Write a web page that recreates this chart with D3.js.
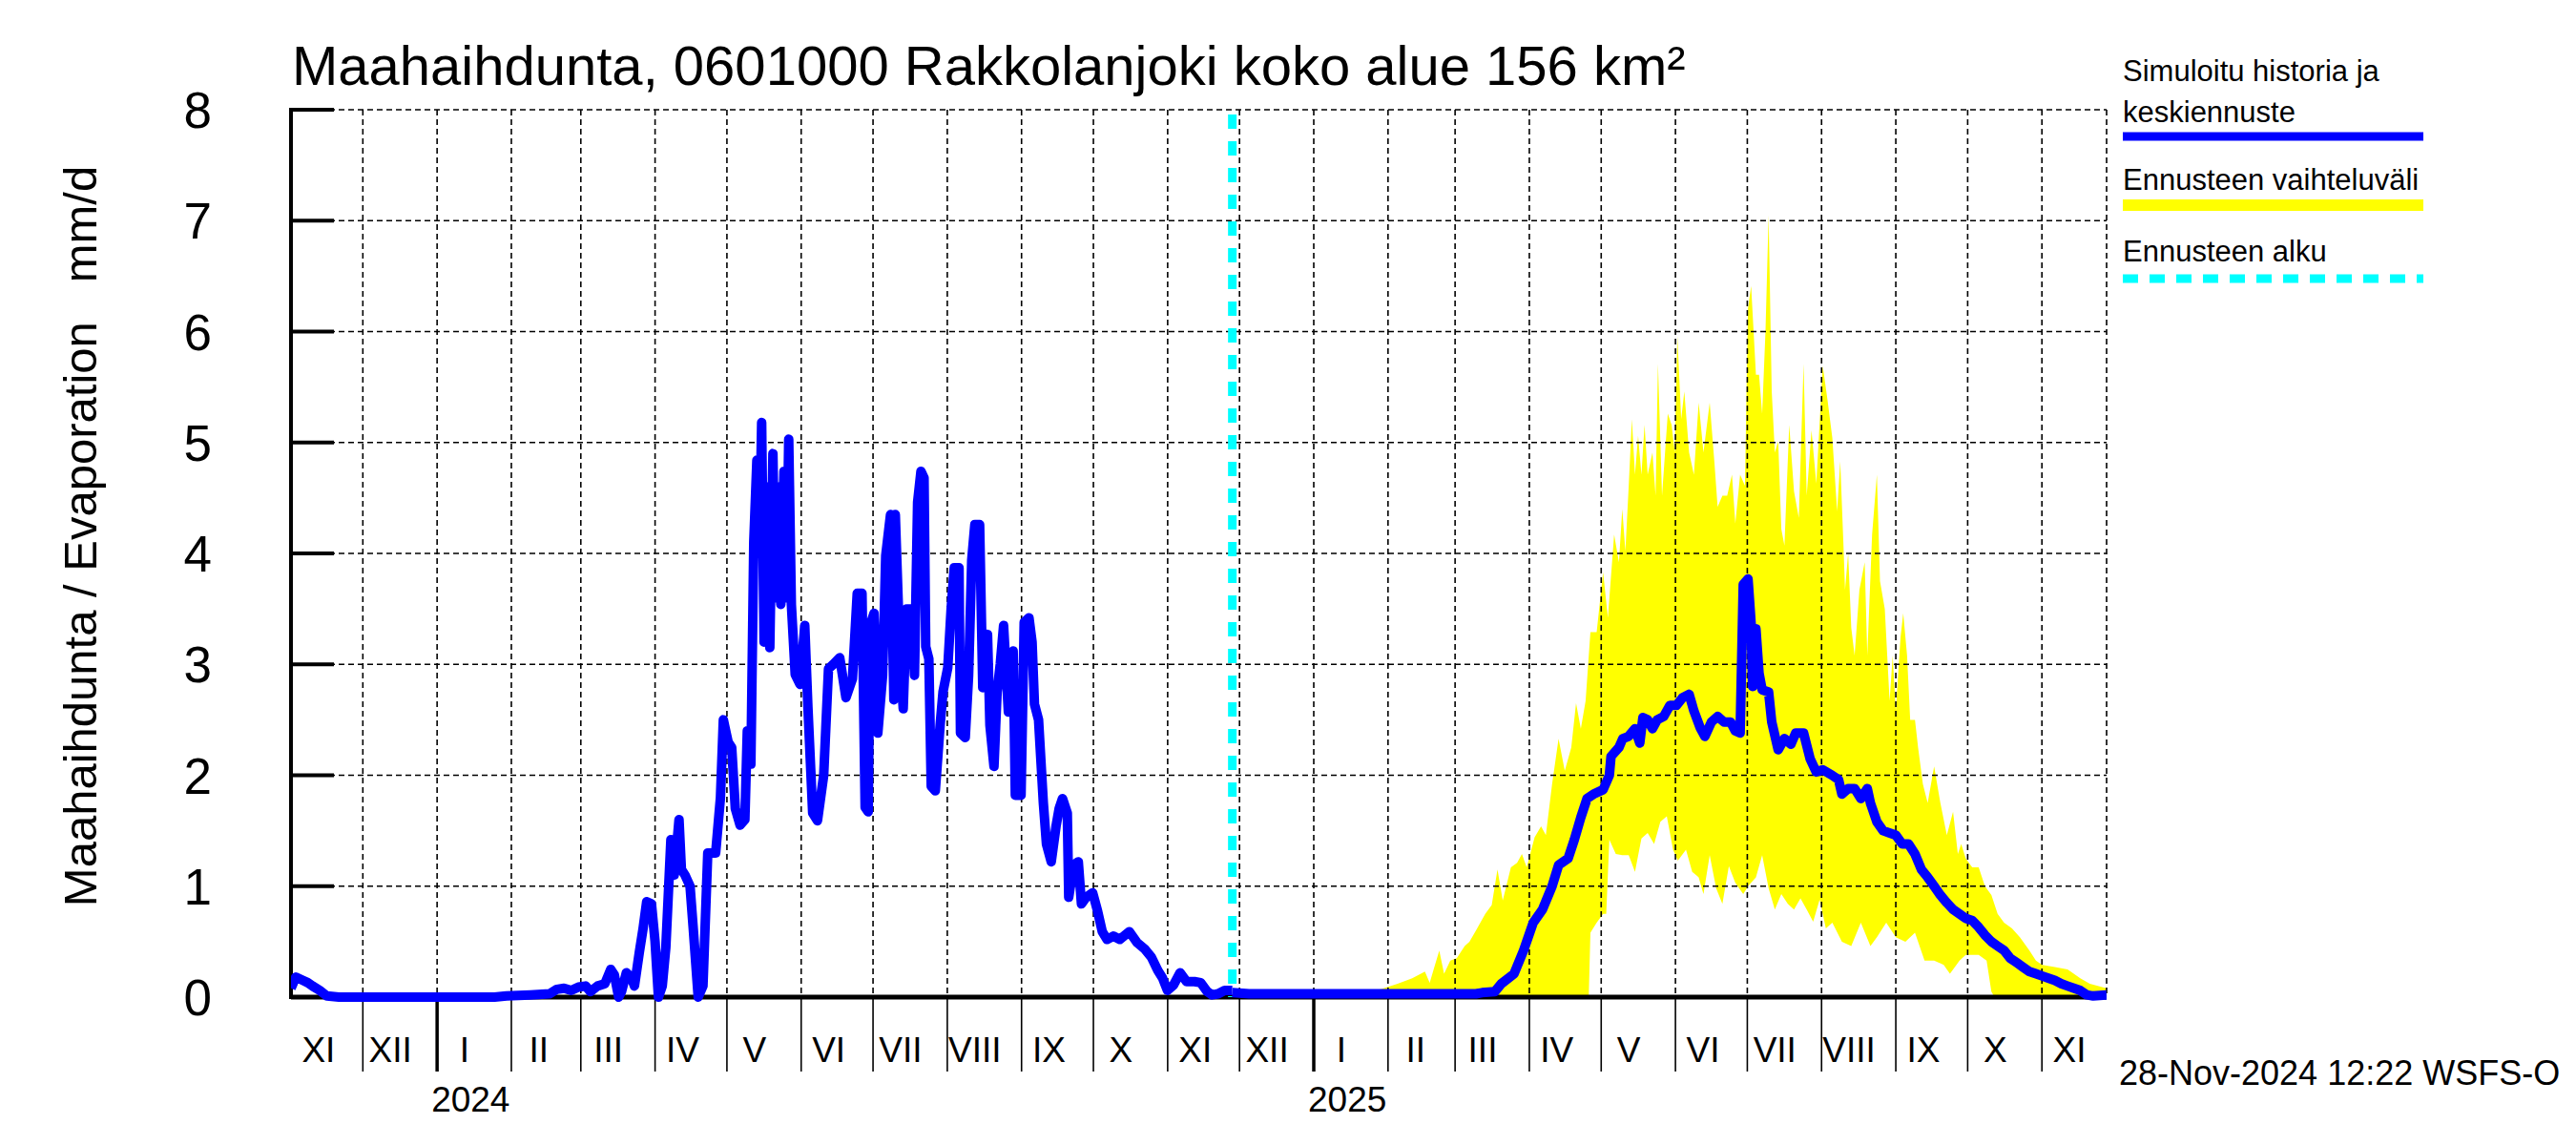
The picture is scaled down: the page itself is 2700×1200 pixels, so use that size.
<!DOCTYPE html>
<html><head><meta charset="utf-8">
<script src="https://cdn.jsdelivr.net/npm/d3@7"></script>
<style>
body{margin:0;background:#fff}
svg text{font-family:"Liberation Sans",Arial,Helvetica,sans-serif;fill:#000}
</style>
</head><body>
<svg id="c" width="2700" height="1200"></svg>
<script>
// ---- data (days since 2023-11-01, value mm/d) ----
const startDate = "2023-11-01";
const endDate = "2025-11-28";
const forecastStartDay = 393; // 28-Nov-2024
const titleText = "Maahaihdunta, 0601000 Rakkolanjoki koko alue 156 km²";
const yLabel = "Maahaihdunta / Evaporation   mm/d";
const footerText = "28-Nov-2024 12:22 WSFS-O";
const monthNames = ["I","II","III","IV","V","VI","VII","VIII","IX","X","XI","XII"];
const yTicks = [0,1,2,3,4,5,6,7,8];
const legendLabels = ["Simuloitu historia ja", "keskiennuste", "Ennusteen vaihteluväli", "Ennusteen alku"];

const simHistory = [[0,0.08],[2,0.18],[5,0.15],[7,0.13],[9,0.1],[12,0.06],[15,0.01],[20,0],[85,0],[90,0.01],[100,0.02],[108,0.03],[111,0.07],[114,0.08],[117,0.06],[120,0.09],[123,0.1],[125,0.05],[128,0.1],[131,0.12],[133.5,0.25],[135,0.2],[136.8,0.0],[138,0.05],[140,0.22],[142,0.18],[143.4,0.1],[145.4,0.4],[147,0.62],[148.5,0.86],[150.5,0.84],[152,0.5],[153.4,0.0],[155,0.1],[156.5,0.45],[158.6,1.42],[160,1.1],[162,1.6],[163,1.15],[164.5,1.1],[166.6,1.0],[168,0.6],[170,0.0],[172,0.1],[174,1.3],[177.3,1.3],[179.3,1.8],[180.5,2.5],[182.5,2.3],[184,2.25],[185.5,1.7],[187.5,1.55],[189.5,1.6],[190.5,2.4],[192,2.1],[193.2,4.1],[194.5,4.84],[195.5,4.0],[196.5,5.18],[197.5,3.2],[198.5,4.6],[199.9,3.15],[201.2,4.9],[202.2,3.6],[203.2,4.6],[204.5,3.54],[205.8,4.74],[206.8,3.6],[207.8,5.03],[208.9,3.54],[210.5,2.91],[212.5,2.82],[214.5,3.35],[215.8,2.62],[217.8,1.66],[219.8,1.59],[222.4,2.0],[224.4,2.96],[226.4,3.0],[229.1,3.06],[231.7,2.7],[234.4,2.87],[236.4,3.64],[238.4,3.64],[239.7,1.71],[241,1.67],[241.7,3.35],[243.4,3.46],[245,2.38],[247,2.9],[248.3,3.98],[250.3,4.35],[251.7,2.68],[252.3,4.35],[254.3,3.05],[255.6,2.6],[257,3.5],[259,3.5],[260.3,2.9],[261.6,4.46],[263,4.74],[264.3,4.68],[265,3.16],[266.3,3.05],[267.3,1.9],[269,1.86],[271,2.45],[272.2,2.75],[274.2,2.97],[275.6,3.5],[276.9,3.87],[278.9,3.87],[279.5,2.38],[281.5,2.34],[282.9,2.9],[284.2,3.94],[285.5,4.26],[287.5,4.26],[288.8,2.79],[290.8,3.27],[291.8,2.45],[293.5,2.08],[294.8,2.75],[296.1,3.0],[297.5,3.35],[299.5,2.57],[301.5,3.12],[302.4,1.82],[304.8,1.82],[306.1,3.38],[308.1,3.42],[309.4,3.2],[310.4,2.64],[312.1,2.5],[314.1,1.75],[315.4,1.38],[317.4,1.22],[319.4,1.54],[320.7,1.7],[322.1,1.79],[324.1,1.66],[324.7,0.9],[326.7,1.19],[328.7,1.22],[330,0.84],[332,0.9],[334.7,0.94],[336.7,0.78],[338.7,0.59],[340.7,0.52],[343.3,0.55],[346,0.52],[350,0.59],[353.3,0.49],[356.6,0.43],[359.2,0.36],[361.9,0.24],[363.9,0.17],[365.9,0.06],[368.5,0.11],[371.2,0.22],[373.9,0.14],[377.2,0.14],[379.8,0.13],[382.5,0.05],[384.5,0.02],[387.1,0.03],[389.8,0.06],[393,0.06]];

const forecastMedian = [[393,0.04],[400,0.03],[420,0.03],[460,0.03],[494.7,0.03],[497.3,0.04],[502.6,0.05],[505.3,0.12],[510.6,0.21],[514.6,0.42],[518.6,0.67],[522.5,0.79],[526.5,1.0],[529.2,1.19],[533.2,1.25],[535.8,1.42],[538.5,1.62],[541.1,1.79],[543.8,1.83],[547.8,1.87],[550.4,2.0],[551.1,2.17],[554.4,2.25],[556,2.33],[558.4,2.35],[561.1,2.42],[563.1,2.29],[564.4,2.52],[566.4,2.5],[568.4,2.42],[570.4,2.5],[573.1,2.53],[575.7,2.63],[578.4,2.63],[581,2.7],[583.7,2.73],[585.7,2.58],[588.3,2.43],[590.3,2.35],[593,2.48],[595.6,2.53],[598.3,2.48],[601,2.48],[603,2.4],[605,2.38],[606.3,3.72],[608.3,3.77],[609.6,3.37],[610.2,2.8],[611.6,3.32],[612.9,2.92],[614.2,2.77],[616.9,2.75],[618.2,2.48],[620.9,2.23],[623.5,2.33],[626.2,2.28],[628.2,2.38],[631.5,2.38],[634.2,2.15],[636.8,2.03],[639.5,2.05],[643.4,2.0],[646.1,1.96],[647.5,1.83],[650.1,1.88],[652.8,1.88],[655.4,1.79],[658.1,1.88],[659.4,1.75],[662.1,1.58],[664.7,1.5],[667.4,1.48],[670,1.46],[672.7,1.38],[675.3,1.38],[678,1.29],[680.7,1.15],[683.3,1.08],[686,1.0],[688.6,0.92],[691.3,0.85],[693.9,0.79],[696.6,0.75],[699.2,0.71],[701.9,0.69],[704.6,0.63],[707.2,0.56],[709.9,0.5],[712.5,0.46],[715.2,0.42],[717.8,0.35],[720.5,0.31],[723.1,0.27],[725.8,0.23],[728.5,0.21],[731.1,0.19],[733.8,0.17],[736.4,0.15],[739.1,0.12],[741.7,0.1],[744.4,0.08],[747,0.06],[749.7,0.02],[752.4,0.01],[758,0.02]];

const bandUpper = [[393,0.0],[420,0.01],[440,0.03],[455,0.07],[462,0.12],[468.1,0.17],[473.4,0.23],[475.4,0.13],[479.4,0.42],[481.4,0.21],[484,0.33],[486.7,0.35],[490,0.46],[492,0.5],[494.7,0.6],[498.6,0.75],[501.3,0.83],[503.7,1.15],[505.9,0.87],[509.3,1.17],[511.9,1.21],[513.9,1.29],[515.9,1.17],[519.2,1.44],[521.9,1.54],[523.9,1.46],[526.5,1.92],[529.2,2.33],[531.8,2.04],[534.5,2.25],[536.5,2.65],[538.5,2.42],[540.5,2.67],[542.5,3.29],[545.1,3.29],[547.8,3.83],[549.8,3.42],[552.4,4.17],[554.4,3.92],[555.8,4.4],[557.1,4.02],[558.5,4.61],[559.8,5.21],[561.1,4.71],[562.4,5.06],[563.8,4.71],[565.1,5.16],[566.4,4.71],[568.4,4.91],[569.7,4.52],[570.7,5.71],[572.4,4.52],[574.8,5.26],[576.4,5.16],[577.7,4.91],[578.8,5.96],[580.4,5.21],[581.7,5.46],[583.7,4.91],[585.7,4.71],[587.7,5.36],[589.7,4.91],[592.3,5.36],[594.3,4.81],[595.6,4.42],[597.6,4.52],[599.6,4.52],[601.6,4.71],[603,4.27],[605,4.71],[607,4.61],[608.3,6.21],[609.6,6.41],[611.6,5.61],[612.9,5.61],[614.2,5.26],[615.6,6.01],[616.9,7.05],[618.2,5.46],[619.5,4.91],[620.9,5.01],[622.2,4.22],[623.5,4.07],[625.5,5.16],[627.5,4.56],[629.5,4.32],[631.5,5.71],[632.8,4.52],[634.8,5.11],[636.8,4.63],[639.5,5.69],[641.5,5.38],[643.5,5.04],[645.5,4.38],[646.8,4.83],[648.1,4.1],[648.8,3.67],[650.1,4.0],[651.4,3.33],[652.8,3.08],[654.8,3.67],[657,3.92],[658.1,3.08],[660.1,4.17],[662.1,4.71],[663.4,3.75],[665.4,3.5],[667.4,2.67],[668.7,3.08],[670,2.58],[672,3.25],[673.1,3.46],[674.7,3.08],[676,2.5],[678,2.5],[679.3,2.25],[681.3,1.92],[683.3,1.75],[686,2.08],[688.6,1.75],[691.3,1.46],[693.9,1.67],[695.9,1.29],[697.3,1.38],[699.2,1.25],[701.9,1.17],[704.6,1.17],[707.2,1.0],[709.9,0.92],[712.5,0.75],[715.2,0.67],[718.5,0.62],[721.8,0.54],[725.8,0.42],[728.5,0.33],[731.1,0.29],[736.4,0.27],[741.7,0.25],[747,0.17],[751,0.12],[758,0.08]];

const bandLower = [[393,0],[541.8,0],[542.5,0.58],[545.1,0.67],[547.8,0.75],[549.1,0.75],[550.4,1.42],[553.1,1.29],[555.8,1.28],[558.5,1.28],[561.1,1.13],[563.8,1.43],[566.4,1.48],[569.1,1.38],[571.7,1.58],[574.4,1.63],[577,1.33],[579,1.23],[582.4,1.33],[585,1.13],[587.7,1.08],[589.7,0.93],[592.3,1.28],[595,0.98],[597.6,0.84],[600.3,1.18],[603,1.03],[606.3,0.93],[608.3,1.0],[611.6,1.08],[614.2,1.28],[616.9,0.98],[619.5,0.79],[622.2,0.93],[624.9,0.84],[627.5,0.79],[630.2,0.89],[632.8,0.79],[635.5,0.68],[638.2,0.88],[640.8,0.62],[643.5,0.67],[647.5,0.5],[651.4,0.46],[655.4,0.67],[659.4,0.46],[662.1,0.54],[666,0.67],[670,0.54],[674,0.5],[678,0.58],[682,0.33],[686,0.33],[690,0.29],[692.6,0.21],[696.6,0.33],[699.2,0.38],[704.6,0.38],[707.9,0.33],[709.9,0.05],[711.2,0],[758,0]];

// ---- drawing ----
const svg = d3.select("#c");
const W = 2700, H = 1200;
const m = {left:305, right:2208, top:115, bottom:1045};
const t0 = d3.utcParse("%Y-%m-%d")(startDate);
const t1 = d3.utcParse("%Y-%m-%d")(endDate);
const toDate = d => new Date(t0.getTime() + d*864e5);
const x = d3.scaleUtc().domain([t0,t1]).range([m.left,m.right]);
const y = d3.scaleLinear().domain([0,8]).range([m.bottom,m.top]);

svg.append("rect").attr("width",W).attr("height",H).attr("fill","#fff");

svg.append("clipPath").attr("id","pc").append("rect")
  .attr("x",m.left).attr("y",m.top-10).attr("width",m.right-m.left).attr("height",m.bottom-m.top+20);

// yellow band
const bandPts = bandUpper.concat(bandLower.slice().reverse());
const lineGen = d3.line().x(d=>x(toDate(d[0]))).y(d=>y(d[1]));
svg.append("path").attr("d", lineGen(bandPts)+"Z").attr("fill","#ffff00").attr("stroke","none")
  .attr("clip-path","url(#pc)");

// grid
const months = d3.utcMonth.range(d3.utcMonth.ceil(t0), t1).filter(d=>+d>+t0);
const grid = svg.append("g").attr("stroke","#000").attr("stroke-width",1.6).attr("stroke-dasharray","6,4").attr("fill","none");
months.forEach(d=>{
  grid.append("line").attr("x1",x(d)).attr("x2",x(d)).attr("y1",m.top).attr("y2",m.bottom);
});
grid.append("line").attr("x1",x(t1)).attr("x2",x(t1)).attr("y1",m.top).attr("y2",m.bottom);
yTicks.filter(v=>v>0).forEach(v=>{
  grid.append("line").attr("x1",m.left).attr("x2",m.right).attr("y1",y(v)).attr("y2",y(v));
});

// axes
svg.append("line").attr("x1",m.left).attr("x2",m.left).attr("y1",m.top-2).attr("y2",m.bottom+2)
  .attr("stroke","#000").attr("stroke-width",4);
svg.append("line").attr("x1",m.left).attr("x2",m.right).attr("y1",y(0)).attr("y2",y(0))
  .attr("stroke","#000").attr("stroke-width",5);
yTicks.forEach(v=>{
  svg.append("line").attr("x1",m.left).attr("x2",m.left+45).attr("y1",y(v)).attr("y2",y(v))
    .attr("stroke","#000").attr("stroke-width",4);
  svg.append("text").attr("x",222).attr("y",y(v)).attr("dy","0.36em").attr("text-anchor","end")
    .attr("font-size",53).text(v);
});

// month ticks below axis
months.forEach(d=>{
  const jan = d.getUTCMonth()===0;
  svg.append("line").attr("x1",x(d)).attr("x2",x(d)).attr("y1",y(0)).attr("y2",1123)
    .attr("stroke","#000").attr("stroke-width", jan?3.5:1.6);
});
// month labels
d3.utcMonth.range(d3.utcMonth.floor(t0), t1).forEach(d=>{
  const mid = new Date(d.getTime() + 11.5*864e5);
  svg.append("text").attr("x",x(mid)).attr("y",1113).attr("text-anchor","middle")
    .attr("font-size",37).text(monthNames[d.getUTCMonth()]);
  if (d.getUTCMonth()===0) {
    const ymid = d3.utcDay.offset(d,14);
    svg.append("text").attr("x",x(ymid)).attr("y",1165).attr("text-anchor","middle")
      .attr("font-size",37).text(d.getUTCFullYear());
  }
});

// forecast start line
const fx = x(toDate(forecastStartDay));
svg.append("line").attr("x1",fx).attr("x2",fx).attr("y1",m.top+5).attr("y2",m.bottom)
  .attr("stroke","#00ffff").attr("stroke-width",9).attr("stroke-dasharray","15,13");

// blue lines
[simHistory, forecastMedian].forEach(s=>{
  svg.append("path").attr("d",lineGen(s)).attr("fill","none").attr("stroke","#0000ff")
    .attr("stroke-width",10).attr("stroke-linejoin","round").attr("clip-path","url(#pc)");
});

// title
svg.append("text").attr("x",306).attr("y",89).attr("font-size",58).text(titleText);

// y label
svg.append("text").attr("transform","translate(83,562) rotate(-90)").attr("text-anchor","middle")
  .attr("dy","0.36em").attr("font-size",49).style("white-space","pre").text(yLabel);

// legend
const lx = 2225, lx2 = 2540;
svg.append("text").attr("x",lx).attr("y",85).attr("font-size",31).text(legendLabels[0]);
svg.append("text").attr("x",lx).attr("y",128).attr("font-size",31).text(legendLabels[1]);
svg.append("line").attr("x1",lx).attr("x2",lx2).attr("y1",143).attr("y2",143).attr("stroke","#0000ff").attr("stroke-width",9);
svg.append("text").attr("x",lx).attr("y",199).attr("font-size",31).text(legendLabels[2]);
svg.append("line").attr("x1",lx).attr("x2",lx2).attr("y1",215).attr("y2",215).attr("stroke","#ffff00").attr("stroke-width",12);
svg.append("text").attr("x",lx).attr("y",274).attr("font-size",31).text(legendLabels[3]);
svg.append("line").attr("x1",lx).attr("x2",lx2).attr("y1",292).attr("y2",292).attr("stroke","#00ffff").attr("stroke-width",9).attr("stroke-dasharray","16,12");

// footer
svg.append("text").attr("x",2221).attr("y",1137).attr("font-size",36).text(footerText);
</script>
</body></html>
